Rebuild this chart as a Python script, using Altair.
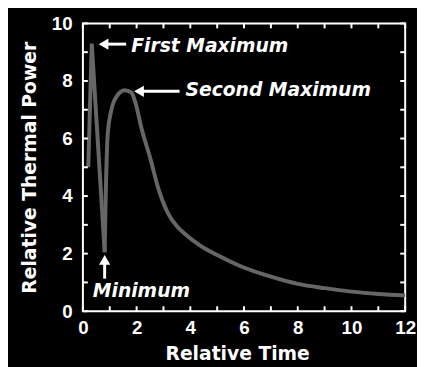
import altair as alt
import pandas as pd

# ---- data ----
# first spike (drawn with straight segments, sharp peak and cusp)
spike_time = [0.20, 0.33, 0.81]
spike_power = [5.0, 9.3, 2.05]
# second hump and decay (smooth)
hump_time = [0.81, 0.85, 0.92, 1.05, 1.25, 1.55, 1.8, 1.97, 2.17, 2.53, 2.79,
             3.16, 3.5, 3.78, 4.37, 5.0, 5.83, 7.0, 8.0, 9.0, 10.0, 11.0, 12.0]
hump_power = [2.05, 4.0, 6.1, 6.95, 7.45, 7.68, 7.6, 7.2, 6.4, 5.24, 4.32,
              3.42, 2.95, 2.7, 2.28, 1.95, 1.58, 1.2, 0.95, 0.8, 0.68, 0.6, 0.55]

x_ticks = list(range(0, 13))
y_ticks = list(range(0, 11))
x_labels = [0, 2, 4, 6, 8, 10, 12]
y_labels = [0, 2, 4, 6, 8, 10]

ann_text = ["First Maximum", "Second Maximum", "Minimum"]
ann_x = [1.80, 3.82, 0.37]
ann_y = [9.21, 7.67, 0.70]

# horizontal arrows (pointing left): head centre, tail
harrow_head_x = [0.77, 2.09]
harrow_tail_x = [1.61, 3.60]
harrow_y = [9.28, 7.64]
# vertical arrow (pointing up)
varrow_x = [0.81]
varrow_head_y = [1.78]
varrow_tail_y = [1.13]

W, H = 327, 292
FONT = "DejaVu Sans"
NUM_FONT = "Liberation Sans"
LINE_COLOR = "#666666"

xs = alt.Scale(domain=[0, 12], nice=False, zero=False)
ys = alt.Scale(domain=[0, 10], nice=False, zero=False)

xax = alt.Axis(values=x_labels, title="Relative Time", domain=False, ticks=False,
               grid=False, labelPadding=8, titlePadding=7, labelFlush=False,
               labelOverlap=False, format="d", titleX=W / 2 - 7)
yax = alt.Axis(values=y_labels, title="Relative Thermal Power", domain=False,
               ticks=False, grid=False, labelPadding=11, titlePadding=12,
               labelFlush=False, labelOverlap=False, format="d")


def X(f):
    return alt.X(f + ":Q", scale=xs, axis=xax)


def Y(f):
    return alt.Y(f + ":Q", scale=ys, axis=yax)


spike = alt.Chart(pd.DataFrame({"t": spike_time, "p": spike_power})).mark_line(
    color=LINE_COLOR, strokeWidth=4, interpolate="linear", strokeJoin="miter",
    strokeMiterLimit=20
).encode(x=X("t"), y=Y("p"))

hump = alt.Chart(pd.DataFrame({"t": hump_time, "p": hump_power})).mark_line(
    color=LINE_COLOR, strokeWidth=4, interpolate="monotone"
).encode(x=X("t"), y=Y("p"))

dfx = pd.DataFrame({"t": x_ticks})
dfy = pd.DataFrame({"p": y_ticks})
tick_style = dict(color="white", strokeWidth=2)
bottom_ticks = alt.Chart(dfx).mark_rule(**tick_style).encode(
    x=X("t"), y=alt.value(H), y2=alt.value(H - 5))
top_ticks = alt.Chart(dfx).mark_rule(**tick_style).encode(
    x=X("t"), y=alt.value(0), y2=alt.value(5))
left_ticks = alt.Chart(dfy).mark_rule(**tick_style).encode(
    y=Y("p"), x=alt.value(0), x2=alt.value(5))
right_ticks = alt.Chart(dfy).mark_rule(**tick_style).encode(
    y=Y("p"), x=alt.value(W), x2=alt.value(W - 5))

hdf = pd.DataFrame({"hx": harrow_head_x, "tx": harrow_tail_x, "y": harrow_y})
hshaft = alt.Chart(hdf).mark_rule(color="white", strokeWidth=3).encode(
    x=X("hx"), x2="tx:Q", y=Y("y"))
hhead = alt.Chart(hdf).mark_point(shape="triangle-left", filled=True, color="white",
                                  size=130, opacity=1).encode(x=X("hx"), y=Y("y"))

vdf = pd.DataFrame({"x": varrow_x, "hy": varrow_head_y, "ty": varrow_tail_y})
vshaft = alt.Chart(vdf).mark_rule(color="white", strokeWidth=3).encode(
    x=X("x"), y=Y("hy"), y2="ty:Q")
vhead = alt.Chart(vdf).mark_point(shape="triangle-up", filled=True, color="white",
                                  size=130, opacity=1).encode(x=X("x"), y=Y("hy"))

texts = alt.Chart(pd.DataFrame({"x": ann_x, "y": ann_y, "label": ann_text})).mark_text(
    align="left", baseline="middle", font=FONT, fontStyle="italic", fontWeight="bold",
    fontSize=19, color="white"
).encode(x=X("x"), y=Y("y"), text="label:N")

chart = alt.layer(
    spike, hump, bottom_ticks, top_ticks, left_ticks, right_ticks,
    hshaft, hhead, vshaft, vhead, texts
).properties(
    width=W, height=H, autosize="none",
    padding={"left": 76, "top": 13, "right": 12, "bottom": 54},
).configure(background="black").configure_view(
    stroke="white", strokeWidth=2, fill="black"
).configure_axis(
    labelFont=NUM_FONT, labelFontWeight="bold", labelFontSize=19, labelColor="white",
    titleFont=FONT, titleFontWeight="bold", titleFontSize=19, titleColor="white",
)

chart.save("out.html", embed_options={"renderer": "svg", "actions": False})
